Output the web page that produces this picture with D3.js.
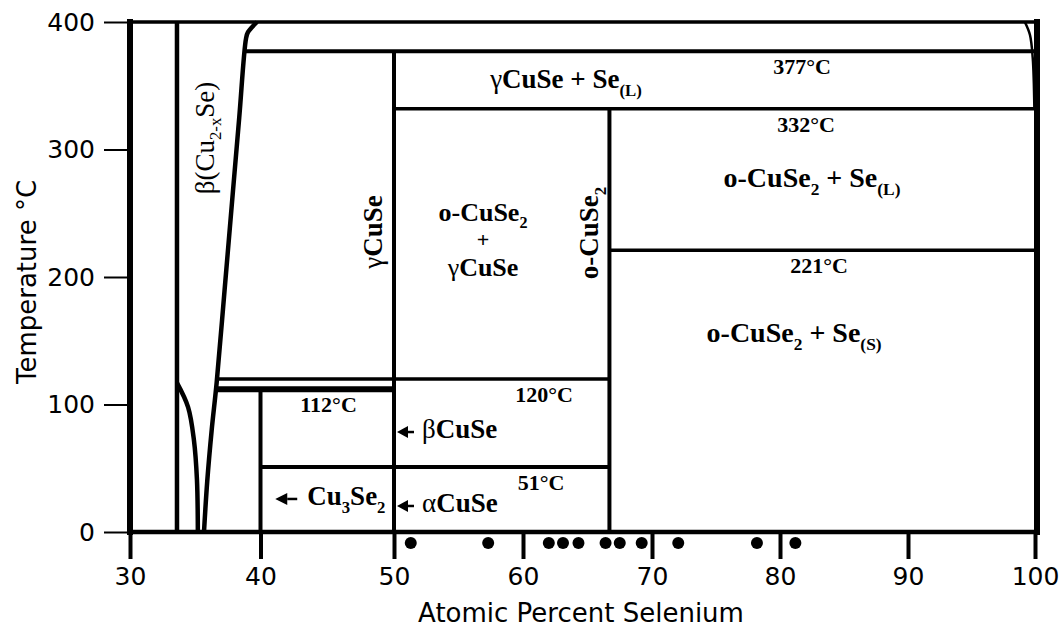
<!DOCTYPE html>
<html>
<head>
<meta charset="utf-8">
<script src="https://cdn.jsdelivr.net/npm/d3@7"></script>
<style>
  html, body { margin: 0; padding: 0; background: #fff; }
  svg { display: block; }
  text { white-space: pre; }
</style>
</head>
<body>
<svg id="chart" width="1060" height="630"></svg>
<script>
// ---- Cu–Se phase diagram data (composition in at.% Se, temperature in °C) ----
const xTicks = [30, 40, 50, 60, 70, 80, 90, 100];
const yTicks = [0, 100, 200, 300, 400];

// invariant isotherms
const isoTemps = [377, 332, 221, 120, 112, 51];
const isoFrom  = [38.81, 50, 66.7, 36.66, 36.6, 40];
const isoTo    = [100, 100, 100, 66.7, 50, 66.7];

// line compounds: composition and upper temperature of the vertical line
const compoundNames = ["Cu3Se2", "CuSe", "CuSe2"];
const compoundX     = [40, 50, 66.7];
const compoundTop   = [112, 377, 332];

// Cu-rich limit of the beta Cu2-xSe field
const betaCuEdgeX = 33.6;

// Se-rich boundary of beta Cu2-xSe (low-T branch up to the liquidus)
const betaSeEdgeX = [35.67, 35.92, 36.26, 36.64, 37.25, 37.87, 38.37, 38.89, 39.04, 39.73];
const betaSeEdgeT = [0, 40, 80, 117, 190, 265, 325, 387, 392, 400];

// Cu-rich branch of the low-temperature alpha Cu2Se field
const alphaEdgeX = [33.6, 34.45, 34.9, 35.13, 35.2];
const alphaEdgeT = [117, 98, 72, 41, 0];

// Se liquidus near pure selenium
const seLiqX = [99.2, 99.6, 99.82, 99.95];
const seLiqT = [400, 390, 372, 332];

// sample compositions
const samples = [51.3, 57.3, 62.0, 63.1, 64.3, 66.4, 67.5, 69.2, 72.05, 78.2, 81.2];

// ---- drawing ----
const svg = d3.select("#chart");
// the printed axis is slightly uneven, so each decade gets its own segment
const x = d3.scaleLinear().domain(xTicks).range([130, 260.5, 394, 523, 652, 780, 908, 1035]);
const y = d3.scaleLinear().domain([0, 400]).range([532, 22]);

const SERIF = "Liberation Serif, Times New Roman, serif";
const SANS = "DejaVu Sans, sans-serif";

// axes
const gx = svg.append("g")
  .attr("transform", `translate(0,${y(0)})`)
  .call(d3.axisBottom(x).tickValues(xTicks).tickSize(27).tickPadding(8).tickFormat(d3.format("d")));
gx.select(".domain").remove();
gx.attr("font-family", SANS).attr("font-size", 25);
gx.selectAll("line").attr("stroke", "#000").attr("stroke-width", 4);
gx.selectAll("text").attr("fill", "#000");

const gy = svg.append("g")
  .attr("transform", `translate(${x(30)},0)`)
  .call(d3.axisLeft(y).tickValues(yTicks).tickSize(26).tickPadding(9).tickFormat(d3.format("d")));
gy.select(".domain").remove();
gy.attr("font-family", SANS).attr("font-size", 25);
gy.selectAll("line").attr("stroke", "#000").attr("stroke-width", 2);
gy.selectAll("text").attr("fill", "#000");

// axis titles
svg.append("text")
  .attr("x", 581).attr("y", 622)
  .attr("text-anchor", "middle")
  .attr("font-family", SANS).attr("font-size", 26)
  .text("Atomic Percent Selenium");
svg.append("text")
  .attr("transform", `translate(36,${(y(0) + y(400)) / 2 + 5}) rotate(-90)`)
  .attr("text-anchor", "middle")
  .attr("font-family", SANS).attr("font-size", 26)
  .text("Temperature °C");

// frame
const frame = svg.append("g").attr("stroke", "#000").attr("stroke-linecap", "square");
frame.append("line").attr("x1", x(30)).attr("x2", x(100)).attr("y1", y(400)).attr("y2", y(400)).attr("stroke-width", 3.5);
frame.append("line").attr("x1", x(30)).attr("x2", x(100)).attr("y1", y(0)).attr("y2", y(0)).attr("stroke-width", 4.5);
frame.append("line").attr("x1", x(30)).attr("x2", x(30)).attr("y1", y(0)).attr("y2", y(400)).attr("stroke-width", 6);
frame.append("line").attr("x1", x(100) + 2).attr("x2", x(100) + 2).attr("y1", y(0)).attr("y2", y(400)).attr("stroke-width", 6);

// phase boundaries
const bounds = svg.append("g").attr("stroke", "#000").attr("fill", "none");

bounds.append("line")
  .attr("x1", x(betaCuEdgeX)).attr("x2", x(betaCuEdgeX))
  .attr("y1", y(0)).attr("y2", y(400)).attr("stroke-width", 4.5);

compoundX.forEach((cx, i) => {
  bounds.append("line")
    .attr("x1", x(cx)).attr("x2", x(cx))
    .attr("y1", y(0)).attr("y2", y(compoundTop[i]))
    .attr("stroke-width", 4);
});

const isoWidth = [4, 3.5, 3.5, 3.5, 6, 4];
isoTemps.forEach((t, i) => {
  bounds.append("line")
    .attr("x1", x(isoFrom[i])).attr("x2", x(isoTo[i]))
    .attr("y1", y(t)).attr("y2", y(t))
    .attr("stroke-width", isoWidth[i]);
});

const curve = d3.line().x(d => x(d[0])).y(d => y(d[1])).curve(d3.curveCatmullRom.alpha(0.5));
bounds.append("path")
  .attr("d", curve(d3.zip(betaSeEdgeX, betaSeEdgeT)))
  .attr("stroke-width", 4.5);
bounds.append("path")
  .attr("d", curve(d3.zip(alphaEdgeX, alphaEdgeT)))
  .attr("stroke-width", 4.5);
bounds.append("path")
  .attr("d", curve(d3.zip(seLiqX, seLiqT)))
  .attr("stroke-width", 2.5);

// sample points just below the composition axis
svg.append("g").selectAll("circle")
  .data(samples)
  .join("circle")
  .attr("cx", d => x(d))
  .attr("cy", y(0) + 11)
  .attr("r", 6)
  .attr("fill", "#000");

// ---- labels ----
// runs: array of {t, w, sub}; subscripts drop below the baseline in a smaller size
function rich(textSel, parts, size) {
  let shift = 0;
  parts.forEach(p => {
    const ts = textSel.append("tspan").text(p.t)
      .attr("font-weight", p.w || "bold");
    const target = p.sub ? size * 0.28 : 0;
    if (target !== shift) { ts.attr("dy", target - shift); shift = target; }
    if (p.sub) ts.attr("font-size", size * 0.62);
  });
}

function label(px, py, parts, size, opts = {}) {
  const t = svg.append("text")
    .attr("font-family", SERIF)
    .attr("font-size", size)
    .attr("fill", "#000")
    .attr("text-anchor", opts.anchor || "middle");
  if (opts.rotate) t.attr("transform", `translate(${px},${py}) rotate(${opts.rotate})`);
  else t.attr("x", px).attr("y", py);
  rich(t, parts, size);
  return t;
}

function arrow(tipX, cy, headLen, tailLen) {
  svg.append("path")
    .attr("d", `M${tipX},${cy} L${tipX + headLen},${cy - 6} L${tipX + headLen},${cy + 6} Z`)
    .attr("fill", "#000");
  svg.append("line")
    .attr("x1", tipX + headLen).attr("x2", tipX + headLen + tailLen)
    .attr("y1", cy).attr("y2", cy)
    .attr("stroke", "#000").attr("stroke-width", 2.5);
}

// isotherm temperatures, written just under each line
const isoLabelX = [81.72, 82.03, 83.05, 61.63, 45.1, 61.4];
isoTemps.forEach((t, i) => {
  label(x(isoLabelX[i]), y(t) + 23, [{ t: `${t}°C` }], 22);
});

// two-phase fields
label(x(63.33), y(348), [{ t: "γ", w: "normal" }, { t: "CuSe + Se" }, { t: "(L)", sub: true }], 27);
label(x(82.5), y(270.6), [{ t: "o-CuSe" }, { t: "2", sub: true }, { t: " + Se" }, { t: "(L)", sub: true }], 28);
label(x(81.1), y(149), [{ t: "o-CuSe" }, { t: "2", sub: true }, { t: " + Se" }, { t: "(S)", sub: true }], 28);

// stacked field label between CuSe and CuSe2
label(x(56.9), y(244), [{ t: "o-CuSe" }, { t: "2", sub: true }], 26);
label(x(56.9), y(223.5), [{ t: "+" }], 22);
label(x(56.9), y(200.8), [{ t: "γ", w: "normal" }, { t: "CuSe" }], 26);

// single-phase lines (vertical labels)
label(x(49.1), y(235.3), [{ t: "γ", w: "normal" }, { t: "CuSe" }], 27, { rotate: -90 });
label(x(65.85), y(234.5), [{ t: "o-CuSe" }, { t: "2", sub: true }], 27, { rotate: -90 });
label(x(36.4), y(309), [{ t: "β(Cu", w: "normal" }, { t: "2-x", sub: true, w: "normal" }, { t: "Se)", w: "normal" }], 27, { rotate: -90 });

// low-temperature compounds with pointers
label(x(52.17), y(73.7), [{ t: "β", w: "normal" }, { t: "CuSe" }], 27, { anchor: "start" });
arrow(x(52.17) - 25, y(73.7) - 6, 11, 6);
label(x(52.17), y(15.7), [{ t: "α", w: "normal" }, { t: "CuSe" }], 27, { anchor: "start" });
arrow(x(52.17) - 25, y(15.7) - 6, 11, 6);
label(x(43.5), y(21.2), [{ t: "Cu" }, { t: "3", sub: true }, { t: "Se" }, { t: "2", sub: true }], 27, { anchor: "start" });
arrow(x(43.5) - 32, y(21.2) - 6, 12, 10);
</script>
</body>
</html>
